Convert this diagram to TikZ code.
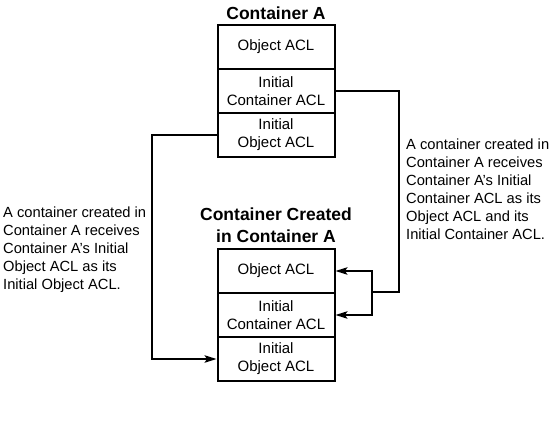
\documentclass[tikz,border=0pt]{standalone}
\usepackage{fontspec}
\setmainfont{Liberation Sans}
\usetikzlibrary{arrows.meta}
\begin{document}
\begin{tikzpicture}[x=1pt,y=-1pt,
  cell/.style={draw,line width=2pt,minimum width=117pt,minimum height=44pt,inner sep=0pt,align=center,font=\fontsize{15}{18}\selectfont},
  ttl/.style={font=\fontsize{17.5}{22}\bfseries\selectfont,align=center},
  note/.style={font=\fontsize{14.7}{18}\selectfont,align=left,inner sep=0pt},
  conn/.style={line width=1.5pt},
  arr/.style={conn,-{Stealth[length=12pt,width=7.5pt,inset=2.5pt]}}]
\useasboundingbox (0,0) rectangle (556,422);
\node[ttl] (t1) at (276,13) {Container A};
\node[cell] (topObj) at (276,47) {Object ACL};
\node[cell] (topIC) at (276,91) {Initial\\Container ACL};
\node[cell] (topIO) at (276,135) {Initial\\Object ACL};
\node[ttl] (t2) at (276,225) {Container Created\\in Container A};
\node[cell] (botObj) at (276,271) {Object ACL};
\node[cell] (botIC) at (276,315) {Initial\\Container ACL};
\node[cell] (botIO) at (276,359) {Initial\\Object ACL};
\node[note,anchor=north west] (lt) at (3,207) {A container created in\\Container A receives\\Container A's Initial\\Object ACL as its\\Initial Object ACL.};
\node[note,anchor=north west] (rt) at (406,139) {A container created in\\Container A receives\\Container A's Initial\\Container ACL as its\\Object ACL and its\\Initial Container ACL.};
\coordinate (jR) at (399,292);
\coordinate (jM) at (372,292);
\coordinate (jL) at (152,359);
\draw[conn] (topIC.east) -| (jR) -- (jM);
\draw[arr] (jM) |- (botObj.east);
\draw[arr] (jM) |- (botIC.east);
\draw[arr] (topIO.west) -| (jL) -- (botIO.west);
\end{tikzpicture}
\end{document}
